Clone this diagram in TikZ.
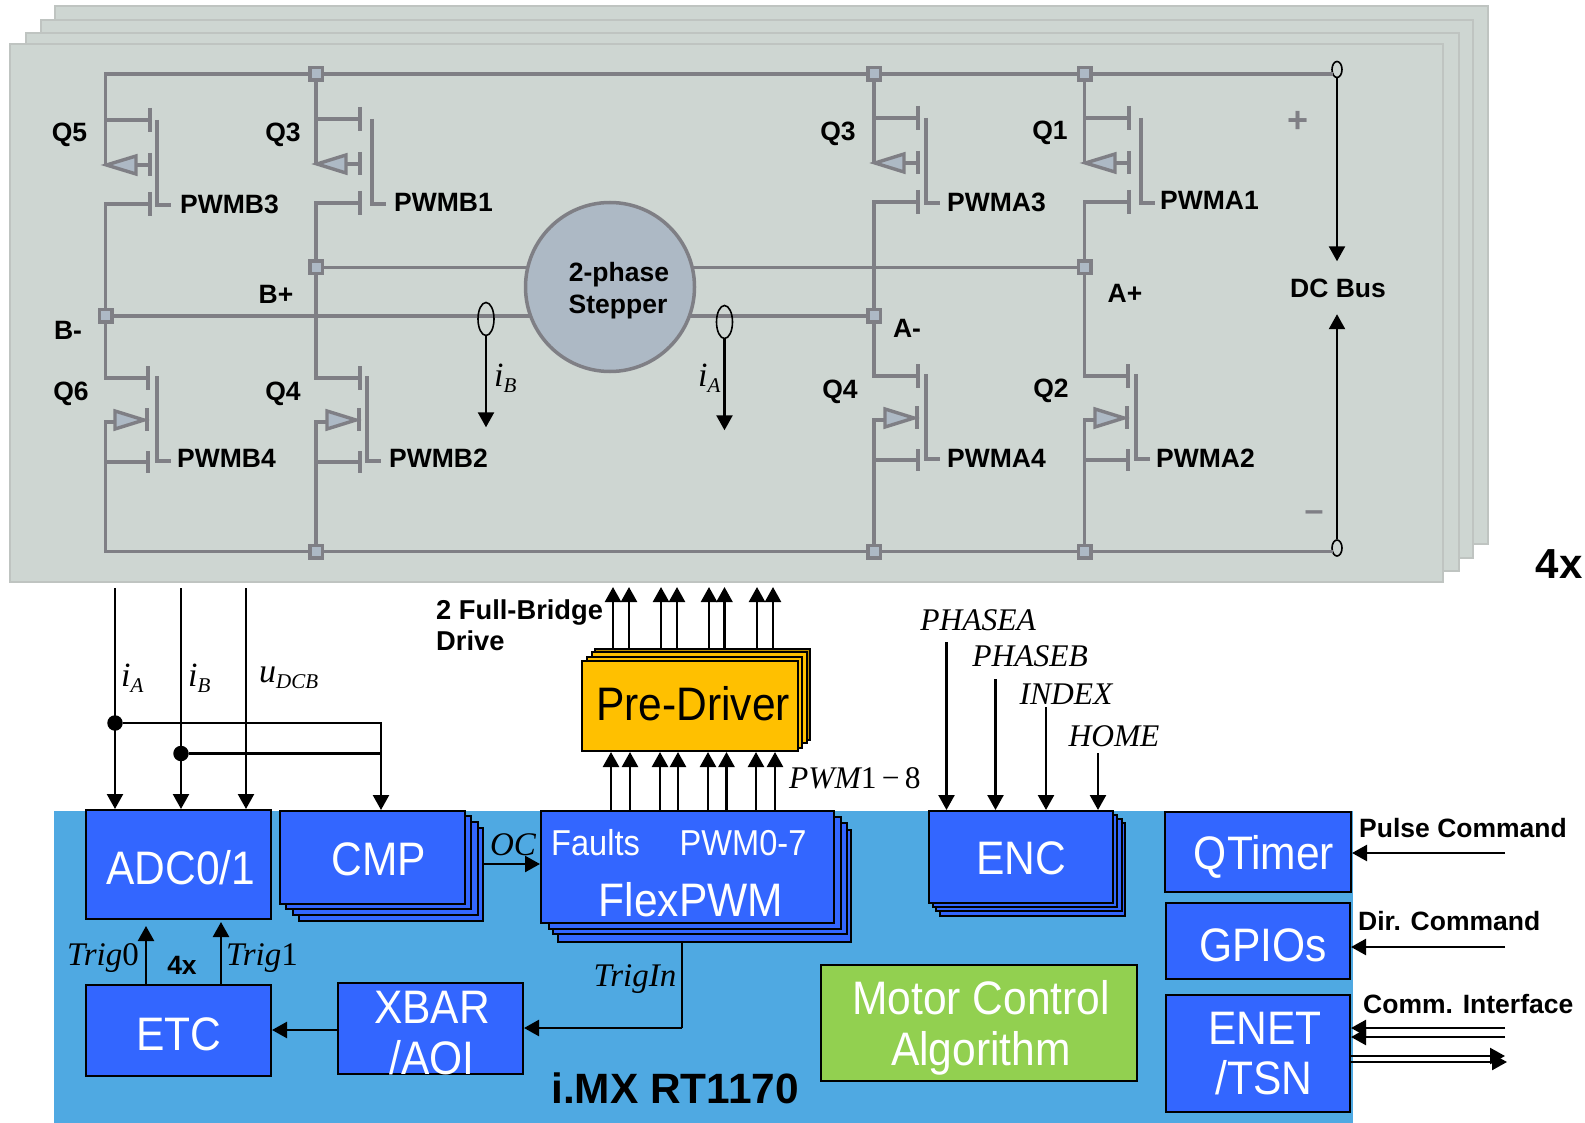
\documentclass[tikz,border=0pt]{standalone}
\usepackage{fontspec}
\setmainfont{Liberation Sans}
\newfontfamily\blockfont[FakeStretch=0.905]{Liberation Sans}
\newfontfamily\italfont{Liberation Serif}
\usetikzlibrary{arrows.meta,shapes.geometric}

\definecolor{boardgray}{HTML}{CED6D2}
\definecolor{boardedge}{HTML}{BFC4C1}
\definecolor{wiregray}{HTML}{7F7F85}
\definecolor{steelfill}{HTML}{ADB9C5}
\definecolor{chipblue}{HTML}{4FA9E2}
\definecolor{blockblue}{HTML}{3366FF}
\definecolor{preorange}{HTML}{FFC000}
\definecolor{predark}{HTML}{BF9000}
\definecolor{algogreen}{HTML}{92D050}

\tikzset{
  board/.style={fill=boardgray,draw=boardedge,line width=1.5pt},
  wire/.style={draw=wiregray,line width=3.6pt,line cap=rect},
  fetbar/.style={draw=wiregray,line width=3.4pt},
  fettri/.style={draw=wiregray,fill=steelfill,line width=3.4pt},
  junc/.style={rectangle,draw=wiregray,fill=steelfill,line width=3.5pt,minimum size=12.5pt,inner sep=0pt},
  motor/.style={circle,draw=wiregray,fill=steelfill,line width=3.5pt,minimum size=169pt,inner sep=0pt},
  sensor/.style={ellipse,draw=black,line width=1.6pt,inner sep=0pt},
  conn/.style={line width=2.4pt,black},
  sig/.style={conn,-{Triangle[length=15pt,width=16pt]}},
  dot/.style={circle,fill=black,minimum size=15.5pt,inner sep=0pt},
  block/.style={rectangle,draw=black,fill=blockblue,line width=2pt,inner sep=0pt},
  blocktxt/.style={text=white,inner sep=0pt,font=\blockfont\fontsize{47}{50}\selectfont},
  smalltxt/.style={text=white,inner sep=0pt,font=\blockfont\fontsize{36}{40}\selectfont},
  lab/.style={inner sep=0pt,font=\bfseries\fontsize{26.5}{30}\selectfont},
  ital/.style={inner sep=0pt,font=\italfont\itshape\fontsize{31.5}{34}\selectfont},
  trig/.style={inner sep=0pt,font=\italfont\itshape\fontsize{33}{36}\selectfont},
}

% current and voltage names with a lowered index
\def\sigl#1#2{{\italfont\itshape\fontsize{34}{36}\selectfont #1\raisebox{-6pt}{\fontsize{21}{24}\selectfont #2}}}

% fet with source on top, name / drain x / stub y / bar x / gate x
\def\highfet#1#2#3#4#5{
  \coordinate (#1d) at (#2,#3);
  \coordinate (#1s) at (#2,#3+84);
  \draw[fetbar] (#2,#3) -- (#4,#3);
  \draw[fetbar] (#2,#3) -- (#2,#3+45);
  \draw[fetbar] (#4,#3-12) -- (#4,#3+12);
  \draw[fetbar] (#4,#3+33) -- (#4,#3+56);
  \draw[fetbar] (#4,#3+72) -- (#4,#3+96);
  \draw[fetbar] (#2,#3+84) -- (#4,#3+84);
  \draw[fetbar] (#4-14,#3+45) -- (#4,#3+45);
  \draw[fettri] (#2+1,#3+45) -- (#4-14,#3+36) -- (#4-14,#3+54) -- cycle;
  \draw[fetbar] (#5,#3) -- (#5,#3+85) -- (#5+14,#3+85);
}
% fet with the triangle pointing at the bar
\def\lowfet#1#2#3#4#5{
  \coordinate (#1d) at (#2,#3);
  \coordinate (#1s) at (#2,#3+84);
  \draw[fetbar] (#2,#3) -- (#4,#3);
  \draw[fetbar] (#4,#3-12) -- (#4,#3+12);
  \draw[fetbar] (#4-1,#3+30) -- (#4-1,#3+53);
  \draw[fetbar] (#4,#3+73) -- (#4,#3+95);
  \draw[fetbar] (#2,#3+84) -- (#4,#3+84);
  \draw[fetbar] (#4-33,#3+44) -- (#2,#3+44) -- (#2,#3+84);
  \draw[fettri] (#4-4,#3+42) -- (#4-33,#3+33) -- (#4-33,#3+51) -- cycle;
  \draw[fetbar] (#5,#3-2) -- (#5,#3+83) -- (#5+14,#3+83);
}

\begin{document}
\begin{tikzpicture}[x=1pt,y=-1pt]
  \useasboundingbox (0,0) rectangle (1585,1123);

  % boards, back one first
  \foreach \l/\t/\r/\b in {55/6/1488/544,41/20/1473/558,26/33/1459/571,10/44/1443/582}
    \draw[board] (\l,\t) rectangle (\r,\b);

  % the eight switches
  \highfet{qfive}{105.5}{120}{150}{157}
  \highfet{qthreel}{316}{119}{360}{372}
  \highfet{qthreer}{874}{118}{918}{926}
  \highfet{qone}{1084.5}{118}{1129}{1141}
  \lowfet{qsix}{105.5}{378}{148}{157}
  \lowfet{qfourl}{316}{378}{360}{367}
  \lowfet{qfourr}{874}{376}{918}{926}
  \lowfet{qtwo}{1084.5}{376}{1128}{1136}

  % junctions and wires
  \foreach \n/\x/\y in {jtopa/316/74,jtopb/874/74,jtopc/1084.5/74,jbplus/316/267.5,jbminus/105.5/316,
      japlus/1084.5/267.5,jaminus/874/316,jbota/316/551.5,jbotb/874/551.5,jbotc/1084.5/551.5}
    \node[junc] (\n) at (\x,\y) {};
  \node[sensor,minimum width=10pt,minimum height=16pt] (busp) at (1337,69.5) {};
  \node[sensor,minimum width=10pt,minimum height=16pt] (busn) at (1337,548) {};
  \draw[wire] (qfived) |- (jtopa) -- (jtopb) -- (jtopc) -- (jtopc -| busp.west);
  \draw[wire] (jtopa) -- (qthreeld);
  \draw[wire] (jtopb) -- (qthreerd);
  \draw[wire] (jtopc) -- (qoned);
  \draw[wire] (qfives) -- (jbminus) -- (qsixd);
  \draw[wire] (qthreels) -- (jbplus) -- (qfourld);
  \draw[wire] (qthreers) -- (jaminus) -- (qfourrd);
  \draw[wire] (qones) -- (japlus) -- (qtwod);
  \draw[wire] (jbplus) -- (japlus);
  \draw[wire] (jbminus) -- (jaminus);
  \draw[wire] (qsixs) |- (jbota) -- (jbotb) -- (jbotc) -- (jbotc -| busn.west);
  \draw[wire] (qfourls) -- (jbota);
  \draw[wire] (qfourrs) -- (jbotb);
  \draw[wire] (qtwos) -- (jbotc);

  \node[motor] (stepper) at (610,287) {};
  \node[lab] (stepa) at (619,275) {2-phase};
  \node[lab] (stepb) at (618,307) {Stepper};

  % current sensors and bus voltage
  \node[sensor,minimum width=16pt,minimum height=33pt] (sensb) at (486,319) {};
  \node[sensor,minimum width=16pt,minimum height=33pt] (sensa) at (724.5,322) {};
  \draw[sig] (sensb.south) -- ++(0,91);
  \draw[sig] (sensa.south) -- ++(0,91);
  \draw[sig] (busp.south) -- ++(0,183);
  \draw[sig] (busn.north) -- ++(0,-225);
  \node[anchor=west,inner sep=0pt] (lib) at (494,378) {\sigl{i}{B}};
  \node[anchor=west,inner sep=0pt] (lia) at (698,378) {\sigl{i}{A}};
  \node[lab] (ldc) at (1338,288) {DC Bus};
  \node[inner sep=0pt,text=wiregray,font=\bfseries\fontsize{36}{40}\selectfont] (lplus) at (1298,122) {+};
  \node[inner sep=0pt,text=wiregray,font=\bfseries\fontsize{34}{40}\selectfont] (lminus) at (1314,516) {\textendash};
  \node[inner sep=0pt,font=\bfseries\fontsize{42}{46}\selectfont] (lfour) at (1559,564) {4x};

  % switch and terminal names
  \foreach \n/\x/\y/\t in {a/69.5/135/Q5,b/283/135/Q3,c/71/394/Q6,d/283/394/Q4,e/838/134/Q3,f/1050/133/Q1,
      g/840/392/Q4,h/1051/391/Q2,i/276/294/B+,j/68/330/B-,k/1125/293/A+,l/907/328/A-}
    \node[lab] (n\n) at (\x,\y) {\t};
  \foreach \n/\x/\y/\t in {a/180/204/PWMB3,b/394/202/PWMB1,c/177/458/PWMB4,d/389/458/PWMB2,
      e/947/202/PWMA3,f/1160/200/PWMA1,g/947/458/PWMA4,h/1156/458/PWMA2}
    \node[lab,anchor=west] (p\n) at (\x,\y) {\t};

  % chip area
  \fill[chipblue] (54,811) rectangle (1353,1123);

  % stacked blocks
  \foreach \l/\t/\r/\b in {298.5/828/483/921,293/822/477.5/915,286/816/471/909}
    \draw[block] (\l,\t) rectangle (\r,\b);
  \foreach \l/\t/\r/\b in {558/830/851/942,552.5/823/847/934,548.5/817/841/929}
    \draw[block] (\l,\t) rectangle (\r,\b);
  \foreach \l/\t/\r/\b in {940/823/1125/916,936/819/1122/911,933/815/1117/907}
    \draw[block] (\l,\t) rectangle (\r,\b);
  \draw[block,fill=predark] (595,649) rectangle (809.5,740);
  \draw[block,fill=preorange] (592,652) rectangle (806.5,743);
  \draw[block,fill=preorange] (587,657) rectangle (801.5,747.5);

  \node[block,minimum width=185pt,minimum height=109pt] (adc) at (178.5,864.5) {};
  \node[block,minimum width=185pt,minimum height=93pt] (cmp) at (372.5,857.5) {};
  \node[block,minimum width=185pt,minimum height=91pt] (etc) at (178.5,1030.5) {};
  \node[block,minimum width=185pt,minimum height=91pt] (xbar) at (430.5,1028.5) {};
  \node[block,minimum width=292.5pt,minimum height=112pt] (flex) at (687.25,867) {};
  \node[block,fill=preorange,minimum width=215.5pt,minimum height=90pt] (pre) at (689.75,706) {};
  \node[block,minimum width=184pt,minimum height=92pt] (enc) at (1021,857) {};
  \node[block,fill=algogreen,minimum width=316pt,minimum height=116pt] (algo) at (979,1023) {};
  \node[block,minimum width=186pt,minimum height=80pt] (qtimer) at (1258,852) {};
  \node[block,minimum width=184pt,minimum height=76pt] (gpio) at (1258,941) {};
  \node[block,minimum width=184pt,minimum height=117pt] (enet) at (1258,1053.5) {};

  \node[blocktxt] (tadc) at (181,868) {ADC0/1};
  \node[blocktxt] (tcmp) at (379,859) {CMP};
  \node[blocktxt] (tetc) at (179,1034) {ETC};
  \node[blocktxt] (txbar) at (432,1007) {XBAR};
  \node[blocktxt] (taoi) at (432,1058) {/AOI};
  \node[smalltxt,anchor=west] (tfault) at (551,843) {Faults};
  \node[smalltxt,anchor=west] (tpwm) at (679.5,843) {PWM0-7};
  \node[blocktxt] (tflex) at (691,900) {FlexPWM};
  \node[blocktxt,text=black] (tpre) at (693,704) {Pre-Driver};
  \node[blocktxt] (tenc) at (1021,858) {ENC};
  \node[blocktxt] (talgoa) at (981,998) {Motor Control};
  \node[blocktxt] (talgob) at (981,1053) {Algorithm};
  \node[blocktxt] (tqt) at (1264,857) {QTimer};
  \node[blocktxt] (tgp) at (1263,945) {GPIOs};
  \node[blocktxt] (tena) at (1265,1028) {ENET};
  \node[blocktxt] (tenb) at (1264,1078) {/TSN};
  \node[inner sep=0pt,font=\bfseries\fontsize{42.4}{46}\selectfont] (tchip) at (675,1088) {i.MX RT1170};

  % measurements into adc and cmp
  \coordinate (cia) at (115,588);
  \coordinate (cib) at (181,588);
  \coordinate (cud) at (246,588);
  \coordinate (cmpa) at (381,723);
  \node[dot] (dota) at (115,723) {};
  \node[dot] (dotb) at (181,753.5) {};
  \draw[sig] (cia) -- (adc.north -| cia);
  \draw[sig] (cib) -- (adc.north -| cib);
  \draw[sig] (cud) -- (adc.north -| cud);
  \draw[sig] (dota) -- (cmpa) -- (cmp.north -| cmpa);
  \draw[conn] (dotb) -- (dotb -| cmpa);
  \node[anchor=west,inner sep=0pt] (mia) at (121,678) {\sigl{i}{A}};
  \node[anchor=west,inner sep=0pt] (mib) at (188,678) {\sigl{i}{B}};
  \node[anchor=west,inner sep=0pt] (mud) at (259,678) {\sigl{u}{DCB}};

  % pwm lines
  \foreach \x in {611,630,660,678,708,726.5,756,775}
    \draw[sig] (flex.north -| \x,0) -- (pre.south -| \x,0);
  \foreach \x in {613,629,661,677,709,724.5,757,773}
    \draw[sig] (\x,649) -- (\x,587);
  \node[lab,anchor=west,font=\bfseries\fontsize{27.3}{30}\selectfont] (lfull) at (436,612) {2 Full-Bridge};
  \node[lab,anchor=west,font=\bfseries\fontsize{27.3}{30}\selectfont] (ldrive) at (436,641) {Drive};
  \node[ital,anchor=west] (lpwm) at (789,778) {PWM\upshape1\,\char"2212\,8};

  % encoder inputs
  \foreach \n/\x/\y in {a/946.5/642,b/995.5/679,c/1046/707,d/1098/753}{
    \coordinate (enc\n) at (\x,\y);
    \draw[sig] (enc\n) -- (enc.north -| enc\n);
  }
  \node[ital] (lpa) at (978,620) {PHASEA};
  \node[ital] (lpb) at (1030,656) {PHASEB};
  \node[ital] (lin) at (1066,694) {INDEX};
  \node[ital] (lho) at (1114,736) {HOME};

  % chip internal links
  \coordinate (cmpout) at (483,864);
  \draw[sig] (cmpout) -- (flex.west |- cmpout);
  \node[trig] (loc) at (513,845) {OC};
  \coordinate (trigin) at (682,1028);
  \draw[conn] (682,942) -- (trigin);
  \draw[sig] (trigin) -- (xbar.east |- trigin);
  \node[trig] (ltin) at (635,979) {TrigIn};
  \draw[sig] (xbar.west |- 0,1030) -- (etc.east |- 0,1030);
  \draw[sig] (etc.north -| 146,0) -- (146,926);
  \draw[sig] (etc.north -| 221,0) -- (221,922);
  \node[trig] (ltra) at (103,958) {Trig\upshape0};
  \node[trig] (ltrb) at (262,958) {Trig\upshape1};
  \node[lab] (lfx) at (182,965) {4x};

  % commands on the right
  \coordinate (cpulse) at (1505,853);
  \coordinate (cdir) at (1505,947);
  \coordinate (ccoma) at (1505,1028);
  \coordinate (ccomb) at (1505,1037);
  \draw[sig] (cpulse) -- (qtimer.east |- cpulse);
  \draw[sig] (cdir) -- (gpio.east |- cdir);
  \draw[sig] (ccoma) -- (enet.east |- ccoma);
  \draw[sig] (ccomb) -- (enet.east |- ccomb);
  \coordinate (ccomc) at (1505,1056);
  \coordinate (ccomd) at (1507,1062);
  \draw[sig] (enet.east |- ccomc) -- (ccomc);
  \draw[sig] (enet.east |- ccomd) -- (ccomd);
  \node[lab,anchor=west] (lpul) at (1359,828) {Pulse Command};
  \node[lab,anchor=west] (ldir) at (1358,921) {Dir. Command};
  \node[lab,anchor=west] (lcom) at (1363,1004) {Comm. Interface};
\end{tikzpicture}
\end{document}
